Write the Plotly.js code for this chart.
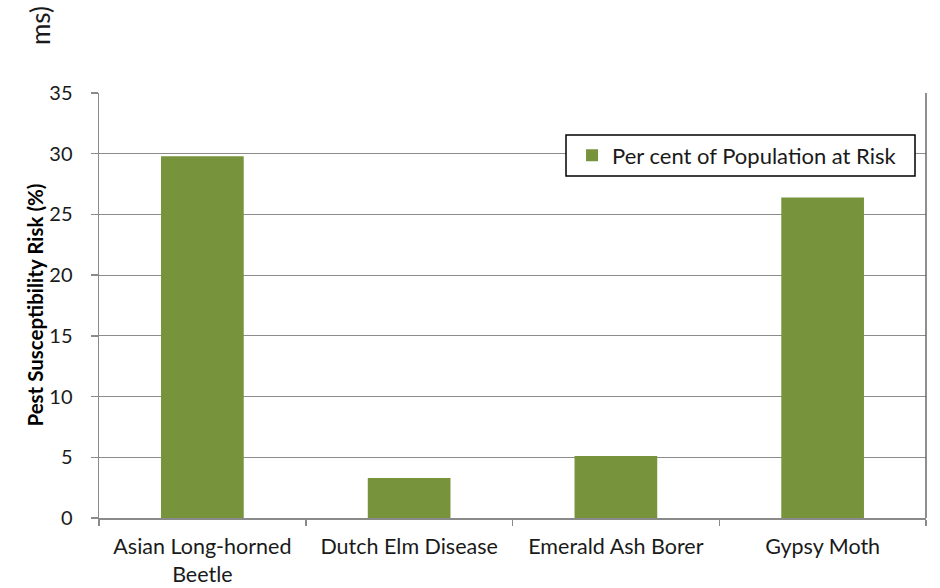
<!DOCTYPE html>
<html>
<head>
<meta charset="utf-8">
<script src="https://cdn.plot.ly/plotly-3.0.1.min.js"></script>
<style>html,body{margin:0;padding:0;background:#fff;}</style>
</head>
<body>
<div id="chart" style="width:940px;height:588px;"></div>
<script>
const categories = ["Asian Long-horned<br>Beetle", "Dutch Elm Disease", "Emerald Ash Borer", "Gypsy Moth"];
const riskValues = [29.8, 3.3, 5.1, 26.4];
const seriesName = "Per cent of Population at Risk";
const yTickValues = [0, 5, 10, 15, 20, 25, 30, 35];

const FONT = "Lato, 'Open Sans', sans-serif";

const data = [{
  type: "bar",
  x: categories,
  y: riskValues,
  name: seriesName,
  marker: {color: "#77933C"},
  showlegend: true
}];

const layout = {
  width: 940, height: 588,
  margin: {l: 99, r: 14, t: 93, b: 70},
  paper_bgcolor: "#fff", plot_bgcolor: "#fff",
  bargap: 0.6,
  font: {family: FONT, size: 21.5, color: "#1a1a1a"},
  showlegend: true,
  legend: {
    x: 0.572, y: 0.853, xanchor: "left", yanchor: "middle",
    borderwidth: 0, bgcolor: "rgba(0,0,0,0)",
    font: {family: FONT, size: 22, color: "#1a1a1a"},
    itemwidth: 30
  },
  xaxis: {
    type: "category",
    tickson: "boundaries",
    ticks: "outside", ticklen: 6, tickcolor: "#8a8a8a", tickwidth: 1.5,
    showline: true, linecolor: "#8a8a8a", linewidth: 1.5,
    showgrid: false, mirror: false,
    ticklabelstandoff: 9,
    tickfont: {family: FONT, size: 21.5, color: "#1a1a1a"}
  },
  yaxis: {
    range: [0, 35],
    tickvals: yTickValues,
    ticks: "outside", ticklen: 7, tickcolor: "#8a8a8a", tickwidth: 1.5,
    showline: true, linecolor: "#8a8a8a", linewidth: 1.5,
    showgrid: true, gridcolor: "#8c8c8c", gridwidth: 1,
    zeroline: false,
    ticklabelstandoff: 14,
    tickfont: {family: FONT, size: 20, color: "#1a1a1a"}
  },
  shapes: [{
    type: "line", xref: "paper", yref: "paper", x0: 1, x1: 1, y0: 0, y1: 1,
    line: {color: "#6a6a6a", width: 1.5}
  }, {
    type: "rect", xref: "paper", yref: "paper", layer: "above",
    x0: 0.5647, x1: 0.9867, y0: 0.8047, y1: 0.9012,
    fillcolor: "#fff", line: {color: "#000", width: 1.5}
  }],
  annotations: [{
    text: "<b>Pest Susceptibility Risk (%)</b>", xref: "paper", yref: "paper",
    x: -0.0785, y: 0.5, xanchor: "center", yanchor: "middle", textangle: -90,
    showarrow: false, font: {family: FONT, size: 20.5, color: "#000"}
  }, {
    text: "ms)", xref: "paper", yref: "paper", x: -0.0713, y: 1.1576,
    xanchor: "center", yanchor: "middle", textangle: -90, showarrow: false,
    font: {family: FONT, size: 26, color: "#1a1a1a"}
  }]
};

Plotly.newPlot("chart", data, layout, {displayModeBar: false, staticPlot: true});
</script>
</body>
</html>
